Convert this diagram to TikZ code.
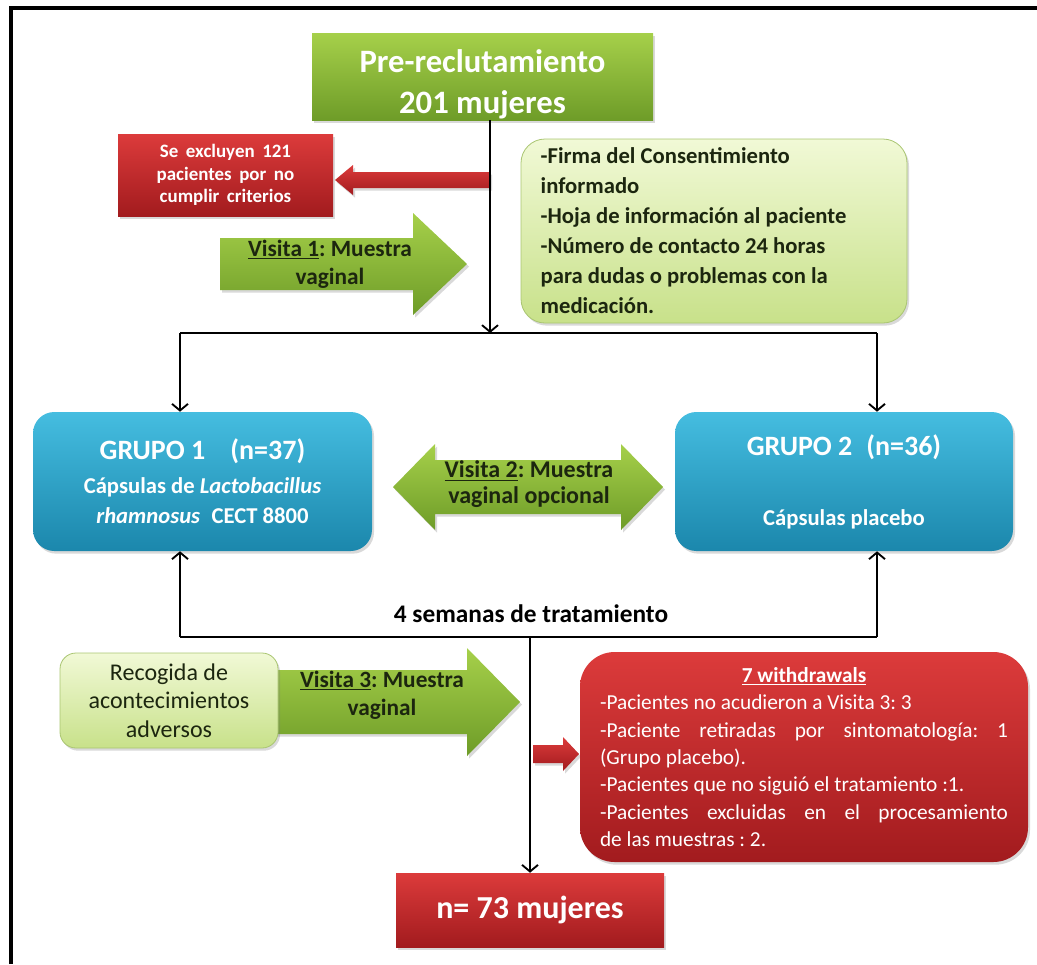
\documentclass[tikz,border=0pt]{standalone}
\usepackage{fontspec}
\setmainfont{Carlito}
\usetikzlibrary{arrows.meta,shadows,calc}
\definecolor{grTop}{HTML}{A6D04A}
\definecolor{grBot}{HTML}{6E9C28}
\definecolor{rdTop}{HTML}{DC3B3B}
\definecolor{rdBot}{HTML}{A21B1E}
\definecolor{blTop}{HTML}{45BDE0}
\definecolor{blBot}{HTML}{1B87AC}
\definecolor{lgTop}{HTML}{F1F9D6}
\definecolor{lgBot}{HTML}{C8E18A}
\definecolor{lgLine}{HTML}{A9C571}
\definecolor{darktext}{HTML}{1C260F}
\newcommand\jline[1]{\makebox[306pt][s]{\spaceskip=0.25em plus 3em\relax #1}}
\frenchspacing
\begin{document}
\frenchspacing
\begin{tikzpicture}[x=0.75pt,y=-0.75pt,
  conn/.style={line width=1.6pt,draw=black},
  tipv/.style={-{Straight Barb[length=5pt,width=12pt,line width=1.4pt]}},
  shad/.style={drop shadow={opacity=0.3,shadow xshift=1.5pt,shadow yshift=-2pt}},
  greenbox/.style={rectangle,top color=grTop,bottom color=grBot,shad,text=white},
  redbox/.style={rectangle,top color=rdTop,bottom color=rdBot,shad,text=white},
  bluebox/.style={rectangle,rounded corners=16pt,top color=blTop,bottom color=blBot,shad,text=white},
  lightbox/.style={rectangle,draw=lgLine,line width=0.6pt,top color=lgTop,bottom color=lgBot,shad,text=darktext},
  garrow/.style={top color=grTop,bottom color=grBot,shad},
  rarrow/.style={top color=rdTop,bottom color=rdBot,shad},
  lbl/.style={text=darktext,align=flush center,inner sep=0pt},
]
\useasboundingbox (0,0) rectangle (1037,964);
% frame
\draw[line width=2.6pt] (11,964) -- (11,8) -- (1037,8);

% top box
\node[greenbox,minimum width=255.75pt,minimum height=65.25pt] (pre) at (482.5,76.5) {};
\node[text=white,align=flush center,inner sep=0pt,
      font=\bfseries\fontsize{24.5}{31}\selectfont] (pretxt) at (482.5,84) {Pre-reclutamiento\\201 mujeres};

% exclusion
\node[redbox,minimum width=161.25pt,minimum height=61.5pt,align=flush center,
      font=\bfseries\fontsize{14.2}{17}\selectfont] (excl) at (225.5,175) {\spaceskip=0.4em\relax Se excluyen 121\\\spaceskip=0.4em\relax pacientes por no\\\spaceskip=0.4em\relax cumplir criterios};
\path[rarrow] (490,172) -- (353,172) -- (353,165) -- (335,180) -- (353,195) -- (353,188) -- (490,188) -- cycle;

% info box
\node[lightbox,rounded corners=18pt,minimum width=289.5pt,minimum height=138pt,text width=260pt,
      inner xsep=14.75pt,align=flush left,font=\bfseries\fontsize{17}{22.5}\selectfont] (info) at (714,231)
  {-Firma del Consentimiento\\informado\\-Hoja de información al paciente\\-Número de contacto 24 horas\\para dudas o problemas con la\\medicación.};

% Visita 1 arrow
\path[garrow] (220,238) -- (413,238) -- (413,213) -- (467,264) -- (413,315) -- (413,290) -- (220,290) -- cycle;
\node[lbl,font=\bfseries\fontsize{17.5}{21}\selectfont] (v1t) at (330,264) {\underline{Visita 1}: Muestra\\vaginal};

% connectors top
\coordinate (j1) at (490,333);
\coordinate (cL) at (180,333);
\coordinate (cR) at (877,333);
\draw[conn,tipv] (pre.south -| j1) -- (j1);
\draw[conn] (cL) -- (cR);

% groups
\node[bluebox,minimum width=254.25pt,minimum height=104.25pt,align=flush center,
      font=\bfseries\fontsize{17}{22.5}\selectfont] (g1) at (202.5,481.5)
  {{\fontsize{21}{26}\selectfont GRUPO 1\hspace{0.9em}(n=37)}\\[3pt]
   Cápsulas de \textit{Lactobacillus}\\\textit{rhamnosus}\enspace CECT 8800};
\node[bluebox,minimum width=253.5pt,minimum height=104.25pt,align=flush center,
      font=\bfseries\fontsize{17}{22.5}\selectfont] (g2) at (844,481.5)
  {{\fontsize{21}{26}\selectfont GRUPO 2\hspace{0.5em}(n=36)}\\[30pt]
   Cápsulas placebo};
\draw[conn,tipv] (cL) -- (cL |- g1.north);
\draw[conn,tipv] (cR) -- (cR |- g2.north);

% Visita 2 double arrow
\path[garrow] (393,487) -- (435,444) -- (435,460) -- (621,460) -- (621,444) -- (663,487) -- (621,530) -- (621,514) -- (435,514) -- (435,530) -- cycle;
\node[lbl,font=\bfseries\fontsize{18}{19}\selectfont] (v2t) at (529,484) {\underline{Visita 2}: Muestra\\vaginal opcional};

% lower connectors
\coordinate (dL) at (180,637);
\coordinate (dR) at (877,637);
\coordinate (dM) at (530,637);
\draw[conn] (dL) -- (dR);
\draw[conn,tipv] (dL) -- (dL |- g1.south);
\draw[conn,tipv] (dR) -- (dR |- g2.south);
\node[inner sep=0pt,font=\bfseries\fontsize{19}{22}\selectfont] (sem) at (531,614) {4 semanas de tratamiento};

% Visita 3 arrow and adverse events box
\path[garrow] (270,670) -- (467,670) -- (467,648) -- (520,702) -- (467,756) -- (467,734) -- (270,734) -- cycle;
\node[lbl,font=\bfseries\fontsize{17.5}{21}\selectfont] (v3t) at (382,695) {\underline{Visita 3}: Muestra\\vaginal};
\node[lightbox,rounded corners=12pt,minimum width=163.5pt,minimum height=71.25pt,align=flush center,
      font=\fontsize{18}{21.4}\selectfont] (rec) at (169,700.5) {Recogida de\\acontecimientos\\adversos};

% withdrawals
\path[rarrow] (533,745) -- (563,745) -- (563,737) -- (579,754) -- (563,771) -- (563,763) -- (533,763) -- cycle;
\node[redbox,rounded corners=26pt,minimum width=336pt,minimum height=157.5pt,text width=306pt,
      inner xsep=15pt,align=flush left,font=\fontsize{16}{20.5}\selectfont] (wd) at (804,757)
  {\makebox[306pt][c]{\bfseries\underline{7 withdrawals}}\\
   -Pacientes no acudieron a Visita 3: 3\\
   \jline{-Paciente retiradas por sintomatología: 1}\\
   (Grupo placebo).\\
   -Pacientes que no siguió el tratamiento :1.\\
   \jline{-Pacientes excluidas en el procesamiento}\\
   de las muestras : 2.};

% final
\node[redbox,minimum width=201pt,minimum height=55.5pt,font=\bfseries\fontsize{24}{28}\selectfont] (n73) at (530,910) {n= 73 mujeres};
\draw[conn,tipv] (dM) -- (n73.north);
\end{tikzpicture}
\end{document}
